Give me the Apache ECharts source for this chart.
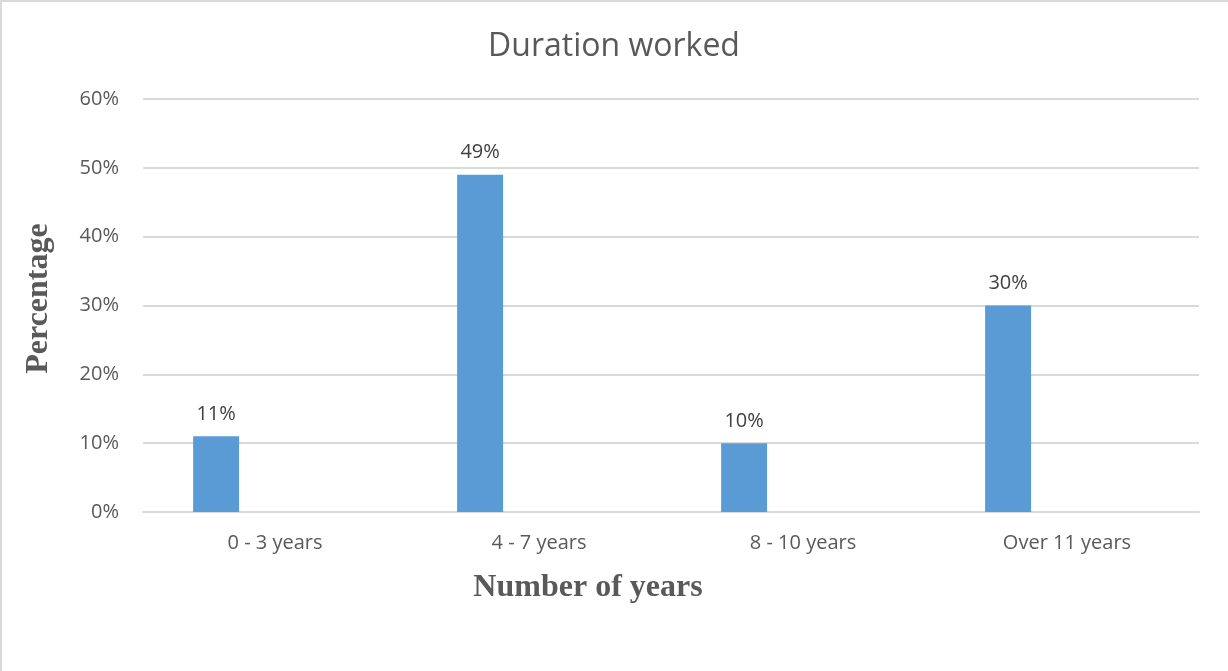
<!DOCTYPE html>
<html>
<head>
<meta charset="utf-8">
<script src="https://cdn.jsdelivr.net/npm/echarts@6/dist/echarts.min.js"></script>
<style>
  html, body { margin: 0; padding: 0; background: #ffffff; }
  #chart { width: 1228px; height: 671px; }
</style>
</head>
<body>
<div id="chart"></div>
<script>
// Share of respondents by how long they have worked
const categories = ['0 - 3 years', '4 - 7 years', '8 - 10 years', 'Over 11 years'];
const percentages = [11, 49, 10, 30];
// Empty companion series: keeps the bar in the left part of each category slot
const emptySeries = [null, null, null, null];
const yTicks = { min: 0, max: 60, interval: 10 };

const textFont = '"Open Sans", "Noto Sans", sans-serif';
const titleFont = '"Liberation Serif", "DejaVu Serif", serif';

const chart = echarts.init(document.getElementById('chart'), null, { renderer: 'canvas' });

chart.setOption({
  animation: false,
  backgroundColor: '#ffffff',
  title: {
    text: 'Duration worked',
    left: 'center',
    top: 26,
    textStyle: { fontFamily: textFont, fontSize: 32, fontWeight: 'normal', color: '#595959' }
  },
  grid: { left: 143, right: 29, top: 99, bottom: 159, containLabel: false },
  xAxis: {
    type: 'category',
    data: categories,
    name: 'Number of years',
    nameLocation: 'middle',
    nameGap: 60,
    nameTextStyle: {
      fontFamily: titleFont, fontSize: 32, fontWeight: 'bold', color: '#595959',
      padding: [0, 166, 0, 0]
    },
    axisLine: { show: true, lineStyle: { color: '#d9d9d9', width: 2 } },
    axisTick: { show: false },
    axisLabel: { fontFamily: textFont, fontSize: 20, color: '#595959', margin: 21 }
  },
  yAxis: {
    type: 'value',
    min: yTicks.min,
    max: yTicks.max,
    interval: yTicks.interval,
    name: 'Percentage',
    nameLocation: 'middle',
    nameGap: 88,
    nameRotate: 90,
    nameTextStyle: {
      fontFamily: titleFont, fontSize: 32, fontWeight: 'bold', color: '#595959',
      padding: [0, 0, 0, 14]
    },
    axisLine: { show: false },
    axisTick: { show: false },
    splitLine: { lineStyle: { color: '#d9d9d9', width: 2 } },
    axisLabel: {
      fontFamily: textFont, fontSize: 20, color: '#595959', margin: 24,
      formatter: v => v + '%'
    }
  },
  series: [
    {
      name: 'Duration worked',
      type: 'bar',
      data: percentages,
      barWidth: 46,
      barGap: '156%',
      itemStyle: { color: '#5b9bd5' },
      label: {
        show: true,
        position: 'top',
        distance: 12,
        fontFamily: textFont,
        fontSize: 20,
        color: '#404040',
        formatter: p => p.value + '%'
      }
    },
    {
      name: 'spacer',
      type: 'bar',
      data: emptySeries,
      barWidth: 46,
      itemStyle: { color: 'transparent' },
      silent: true
    }
  ],
  graphic: [
    { type: 'line', shape: { x1: 0, y1: 1, x2: 1228, y2: 1 }, style: { stroke: '#d9d9d9', lineWidth: 2 }, silent: true },
    { type: 'line', shape: { x1: 1, y1: 0, x2: 1, y2: 671 }, style: { stroke: '#d9d9d9', lineWidth: 2 }, silent: true }
  ]
});
</script>
</body>
</html>
